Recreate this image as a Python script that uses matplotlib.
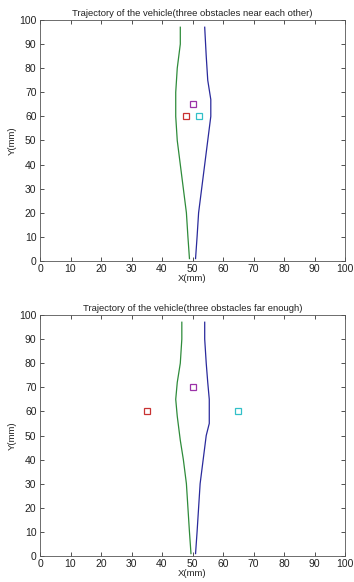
import matplotlib
matplotlib.use("Agg")
import matplotlib.pyplot as plt

plt.rcParams['font.family'] = ['Liberation Sans', 'DejaVu Sans']

# Top panel data
top_green_x = [49, 48.5, 48, 47, 46, 45, 44.5, 44.5, 45, 46, 46]
top_green_y = [1, 10, 20, 30, 40, 50, 60, 70, 80, 90, 97]
top_blue_x = [51, 51.5, 52, 53, 54, 55, 56, 56, 55, 54.5, 54]
top_blue_y = [1, 10, 20, 30, 40, 50, 60, 67, 75, 85, 97]
top_obs_x = [48, 50, 52]
top_obs_y = [60, 65, 60]

# Bottom panel data
bot_green_x = [49.5, 49, 48.5, 48, 47, 46, 45, 44.5, 45, 46, 46.5, 46.5]
bot_green_y = [1, 10, 20, 30, 40, 48, 58, 65, 72, 80, 90, 97]
bot_blue_x = [51, 51.5, 52, 52.5, 53.5, 54.5, 55.5, 55.5, 55, 54.5, 54, 54]
bot_blue_y = [1, 10, 20, 30, 40, 50, 55, 65, 72, 80, 90, 97]
bot_obs_x = [35, 50, 65]
bot_obs_y = [60, 70, 60]

obs_colors = ["#c83232", "#9b32a8", "#32c0c8"]
titles = ["Trajectory of the vehicle(three obstacles near each other)",
          "Trajectory of the vehicle(three obstacles far enough)"]
ticks = list(range(0, 101, 10))

fig = plt.figure(figsize=(3.54, 5.82), dpi=100)
W, H = 354, 582
ax1 = fig.add_axes([40 / W, 1 - 261 / H, 305 / W, 241 / H])
ax2 = fig.add_axes([40 / W, 1 - 556 / H, 305 / W, 241 / H])

panels = [
    (ax1, top_green_x, top_green_y, top_blue_x, top_blue_y, top_obs_x, top_obs_y),
    (ax2, bot_green_x, bot_green_y, bot_blue_x, bot_blue_y, bot_obs_x, bot_obs_y),
]
for i, (ax, gx, gy, bx, by, ox, oy) in enumerate(panels):
    ax.plot(gx, gy, color="#2e8b3a", lw=0.9)
    ax.plot(bx, by, color="#2a2a9c", lw=0.9)
    for x, y, c in zip(ox, oy, obs_colors):
        ax.plot([x], [y], marker="s", ms=5, mfc="none", mec=c, mew=0.9, ls="none")
    ax.set_xlim(0, 100)
    ax.set_ylim(0, 100)
    ax.set_xticks(ticks)
    ax.set_yticks(ticks)
    ax.tick_params(direction="in", top=True, right=True, labelsize=7.5,
                   length=3, width=0.6, colors="#333333", labelcolor="#222222", pad=2.5)
    for s in ax.spines.values():
        s.set_linewidth(0.6)
        s.set_color("#555555")
    ax.set_title(titles[i], fontsize=6.8, pad=3, color="#222222")
    ax.set_xlabel("X(mm)", fontsize=6.8, labelpad=0, color="#222222")
    ax.set_ylabel("Y(mm)", fontsize=6.8, labelpad=2, color="#222222")

fig.savefig("out.png", dpi=100)
